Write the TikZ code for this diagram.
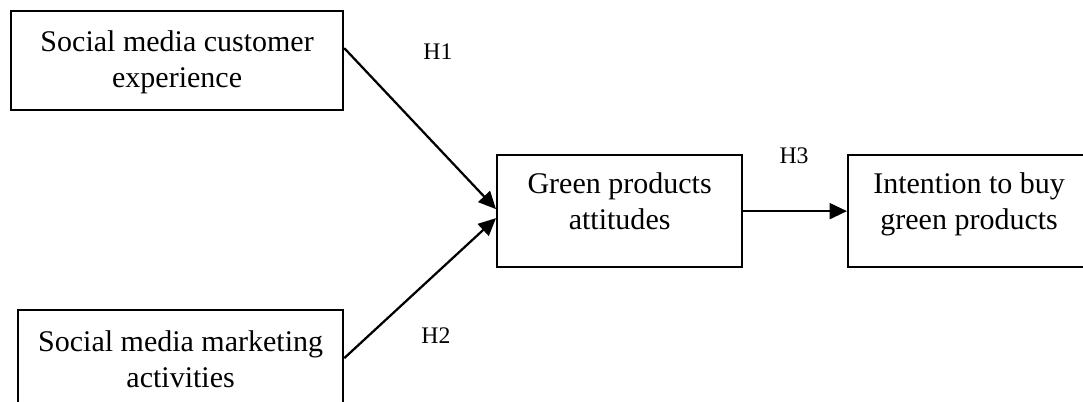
\documentclass[tikz,border=0pt]{standalone}
\usepackage{fontspec}
\setmainfont{Liberation Serif}
\usetikzlibrary{arrows.meta}

\begin{document}
\begin{tikzpicture}[x=0.4pt, y=-0.4pt, line width=0.9pt,
    every node/.style={font=\fontsize{12}{14.6}\selectfont},
    box/.style={draw, rectangle, align=center, inner sep=0pt, anchor=north west},
    hyp/.style={font=\fontsize{9.5}{11}\selectfont, inner sep=0pt},
    >={Triangle[length=7pt, width=6.4pt]}]
    \useasboundingbox (0,0) rectangle (1083,401);
    \node (exp) [box, minimum width=132.8pt, text height=30.6pt, text depth=9pt] at (10,10) {Social media customer\\experience};
    \node (mkt) [box, minimum width=130pt, text height=31pt, text depth=9pt] at (17,309) {Social media marketing\\activities};
    \node (att) [box, minimum width=98pt, text height=29.8pt, text depth=15pt] at (496,154) {Green products\\attitudes};
    \node (int) [box, minimum width=96.8pt, text height=29.8pt, text depth=15pt] at (847,154) {Intention to buy\\green products};
    \node (h1) [hyp] at (438,52) {H1};
    \node (h2) [hyp] at (436,336) {H2};
    \node (h3) [hyp] at (794,156) {H3};
    \draw[->] ([yshift=5pt]exp.east) -- ([yshift=0.8pt]att.west);
    \draw[->] ([yshift=0.8pt]mkt.east) -- ([yshift=-2.8pt]att.west);
    \draw[->] (att) -- (int);
\end{tikzpicture}
\end{document}
